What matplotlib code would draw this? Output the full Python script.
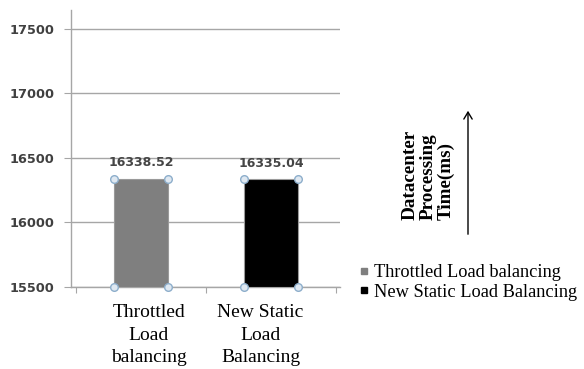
import matplotlib
matplotlib.use("Agg")
import matplotlib.pyplot as plt
from matplotlib.lines import Line2D

# Data
categories = ["Throttled\nLoad\nbalancing", "New Static\nLoad\nBalancing"]
series_names = ["Throttled Load balancing", "New Static Load Balancing"]
values = [16338.52, 16335.04]
value_labels = ["16338.52", "16335.04"]
yticks = [15500, 16000, 16500, 17000, 17500]

# Styling / layout
colors = ["#7f7f7f", "#000000"]
base = 15500
bar_width = 0.41
label_dx = [0.06, -0.08]
grid_color = "#a6a6a6"
serif = ["Liberation Serif", "DejaVu Serif"]

W, H = 584, 369
fig = plt.figure(figsize=(W / 100, H / 100), dpi=100)
ax = fig.add_axes([71 / W, 1 - 287 / H, (340 - 71) / W, (287 - 10) / H])

x = list(range(len(values)))
heights = [v - base for v in values]
ax.bar(x, heights, bottom=base, width=bar_width, color=colors,
       edgecolor="#9a9a9a", linewidth=0.8, zorder=3)

# Selection-handle circles at the bar corners
for xi, v in zip(x, values):
    for cx in (xi - bar_width / 2, xi + bar_width / 2):
        ax.plot([cx, cx], [base, v], ls="", marker="o", ms=5.5,
                mfc="#dfe8f1", mec="#8daecb", mew=1.0, zorder=4, clip_on=False)

# Value labels
for xi, v, t in zip(x, values, value_labels):
    ax.annotate(t, (xi, v), xytext=(0, 11.5), textcoords="offset points",
                ha="center", va="center", fontsize=9, color="#454545",
                fontweight="bold")

# Category labels below the axis
for xi, dx, c in zip(x, label_dx, categories):
    ax.annotate(c, (xi + dx, base), xytext=(0, -12.5), textcoords="offset points",
                ha="center", va="top", fontsize=14, family=serif,
                linespacing=1.42, annotation_clip=False)

ax.set_ylim(base, 17647)
ax.set_xlim(-0.538, 1.53)
ax.set_yticks(yticks)
ax.set_xticks([-0.5, 0.5, 1.5])
ax.set_xticklabels([])
ax.yaxis.grid(True, color=grid_color, lw=1.0, zorder=0)
ax.set_axisbelow(True)
for s in ("top", "right"):
    ax.spines[s].set_visible(False)
for s in ("left", "bottom"):
    ax.spines[s].set_color(grid_color)
    ax.spines[s].set_linewidth(1.0)
ax.tick_params(axis="y", length=5, color=grid_color, pad=7,
               labelsize=9.3, labelcolor="#404040")
ax.tick_params(axis="x", length=4, color=grid_color)
for lbl in ax.get_yticklabels():
    lbl.set_fontweight("bold")

# Rotated axis title with arrow
fig.text(428 / W, 1 - 175 / H, "Datacenter\nProcessing\nTime(ms)", rotation=90,
         ha="center", va="center", multialignment="left", fontsize=13.8,
         fontweight="bold", family=serif, linespacing=1.08)
fig.add_artist(matplotlib.patches.FancyArrowPatch(
    (468 / W, 1 - 237 / H), (468 / W, 1 - 108 / H), transform=fig.transFigure,
    arrowstyle="->,head_length=5,head_width=3", color="black", lw=1.0,
    mutation_scale=1))

# Legend
handles = [Line2D([], [], ls="", marker="s", ms=5, color=c) for c in colors]
fig.legend(handles, series_names, loc="upper left",
           bbox_to_anchor=(358 / W, 1 - 264 / H), frameon=False,
           prop={"family": serif, "size": 13.2}, handlelength=0.6,
           handletextpad=0.3, labelspacing=0.15, borderpad=0, borderaxespad=0)

fig.savefig("out.png", dpi=100)
